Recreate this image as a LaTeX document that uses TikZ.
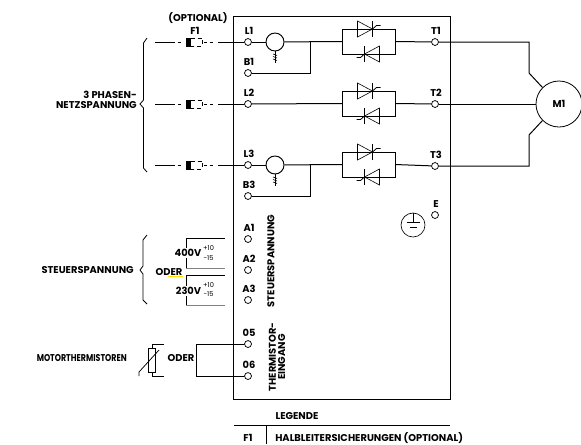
\documentclass[tikz,border=0pt]{standalone}
\usepackage{fontspec}
\setmainfont{Poppins}
\newfontfamily\narrowfont{Poppins}[FakeStretch=0.8]
\tikzset{
  wire/.style={line width=0.75pt,line join=miter},
  term/.style={circle,draw,line width=0.55pt,fill=white,minimum size=5.2pt,inner sep=0pt},
  lab/.style={font=\fontsize{7.4pt}{7.4pt}\selectfont\bfseries,inner sep=0pt,align=center},
  small/.style={font=\fontsize{5pt}{5pt}\selectfont,inner sep=0pt},
  pics/fuse/.style={code={
    \draw[wire] (-40,0) -- (-20,0);
    \draw[wire] (-17,0) -- (-14,0);
    \fill (-9,-4.5) rectangle (-4,4.5);
    \draw[line width=0.5pt,densely dashed] (-4,-4) -- (7,-4) -- (7,4) -- (-4,4);
    \draw[wire] (9,0) -- (12,0) (15,0) -- (18,0);
  }},
  pics/thyr/.style={code={
    \draw[line width=0.45pt] (-15,-8) -- (0,0) -- (-15,8) -- cycle;
    \draw[line width=0.6pt] (0,-8) -- (0,8);
    \draw[line width=0.6pt] (0,0) -- (4,-3.5) -- (8,-3.5);
  }},
  pics/thyrpair/.style={code={
    \draw[wire] (-26.5,-12.5) rectangle (26.5,12.5);
    \pic at (4,-12.5) {thyr};
    \pic[rotate=180] at (-4,12.5) {thyr};
  }},
  pics/ct/.style={code={
    \draw[line width=0.6pt] (0,9) -- (0,21);
    \draw[line width=0.45pt] (-2,12) -- (2,13.5) (-2,14.5) -- (2,16) (-2,17) -- (2,18.5);
  }}
}
\begin{document}
\begin{tikzpicture}[x=0.75pt,y=-0.75pt]
\useasboundingbox (0,0) rectangle (581,444);
% enclosure
\draw[wire] (233.5,16) rectangle (450,399.5);

% terminals
\foreach \n/\x/\y/\t in {L1/248/42/L1,B1/248/73/B1,L2/248/104/L2,L3/248/165/L3,B3/248/196/B3,A1/248/239/A1,A2/248/270/A2,A3/248/300/A3,O5/248/344/05,O6/248/376/06,T1/435/42/T1,T2/435/104/T2,T3/435/166/T3,E/435/215/E}
  {\node[term] (\n) at (\x,\y) {};
   \node[lab] (lab\n) at (\x+1,\y-11) {\t};}

% motor
\node[circle,draw,line width=0.6pt,minimum size=34.5pt,inner sep=0pt] (M) at (559,104) {};
\node[lab] (Mtext) at (559,104) {M1};
\coordinate (m1a) at (529,42); \coordinate (m1b) at (529,73);
\coordinate (m3a) at (529,166); \coordinate (m3b) at (529,135);
\draw[wire] (T1) -- (m1a) -- (m1b) -- (M.135);
\draw[wire] (T2) -- (M);
\draw[wire] (T3) -- (m3a) -- (m3b) -- (M.225);

% thyristor groups
\foreach \n/\y in {a/41.5,b/103.5,c/164.5}{
  \coordinate (th\n) at (368.5,\y);
  \coordinate (th\n W) at (342,\y);
  \coordinate (th\n E) at (395,\y);
  \pic at (th\n) {thyrpair};
}
\draw[wire] (thaE) -- (T1);
\draw[wire] (thbE) -- (T2);
\draw[wire] (thcE) -- (T3);

% current transformers
\node[circle,draw,line width=0.7pt,fill=white,minimum size=13.5pt,inner sep=0pt] (CT1) at (275,42) {};
\node[circle,draw,line width=0.7pt,fill=white,minimum size=13.5pt,inner sep=0pt] (CT3) at (275,165) {};
\pic at (CT1) {ct};
\pic at (CT3) {ct};
\coordinate (j1) at (310,42); \coordinate (j1b) at (310,73);
\coordinate (j3) at (310,165); \coordinate (j3b) at (310,196);
\draw[wire] (L1) -- (CT1);
\draw[wire] (CT1) -- (thaW);
\draw[wire] (B1) -- (j1b) -- (j1);
\draw[wire] (L2) -- (thbW);
\draw[wire] (L3) -- (CT3);
\draw[wire] (CT3) -- (thcW);
\draw[wire] (B3) -- (j3b) -- (j3);

% fuses and mains
\foreach \n/\y/\e in {a/42/L1,b/104/L2,c/165/L3}{
  \coordinate (fu\n) at (195,\y);
  \coordinate (fo\n) at (218,\y);
  \pic at (fu\n) {fuse};
  \draw[wire] (fo\n) -- (\e);
}
\node[lab] (optl) at (198,18) {(OPTIONAL)};
\node[lab] (f1l) at (195,31) {F1};

% braces
\draw[line width=0.6pt] (147,38) -- (143.5,43) -- (143.5,100) -- (140,104) -- (143.5,108) -- (143.5,168) -- (147,172);
\draw[line width=0.6pt] (147,235) -- (143,240) -- (143,266) -- (140,270) -- (143,274) -- (143,300) -- (147,304);
\node[lab,anchor=east,align=right] (netz) at (137,100) {3 PHASEN-\\[-0.3pt]NETZSPANNUNG};
\node[lab,anchor=east] (steuer) at (134,270) {STEUERSPANNUNG};

% control supply
\draw[wire] (225,238) -- (186,238) -- (186,268);
\draw[wire,gray] (186,268) -- (225,268);
\draw[wire] (225,275) -- (186,275) -- (186,305);
\draw[wire,gray] (186,305) -- (225,305);
\node[lab,fill=white,inner ysep=1pt] (v400) at (188,253) {400V};
\node[lab,fill=white,inner ysep=1pt] (v230) at (188.5,291) {230V};
\node[small] (p1) at (208.5,248) {+10};
\node[small] (m1) at (208.5,258) {-15};
\node[small] (p2) at (208.5,285) {+10};
\node[small] (m2) at (208.5,294) {-15};
\node[lab] (oder1) at (169,272) {ODER};
\draw[line width=0.7pt,yellow!85!orange] (168,276.7) -- (183,276.7);
\node[lab,rotate=90] (st2) at (271,261) {STEUERSPANNUNG};
\node[lab,rotate=90] (the) at (277,357) {THERMISTOR-\\[-0.3pt]EINGANG};

% earth
\node[circle,draw,line width=0.5pt,minimum size=18pt,inner sep=0pt] (PE) at (413,225) {};
\draw[line width=0.6pt] (PE.north) -- (413,222);
\draw[line width=0.6pt] (406.5,222) -- (419.5,222);
\draw[line width=0.6pt] (409.5,227) -- (416.5,227);

% thermistor
\node[draw,line width=0.6pt,minimum width=5.8pt,minimum height=18pt,inner sep=0pt] (R) at (152,360) {};
\coordinate (rt) at (163.5,344); \coordinate (rb) at (163.5,376);
\draw[line width=0.6pt] (rt) -- (R.north |- rt) -- (R.north);
\draw[line width=0.6pt] (rb) -- (R.south |- rb) -- (R.south);
\draw[line width=0.55pt] (139,376) -- (139,372) -- (159,350);
\coordinate (br1) at (196,344); \coordinate (br2) at (196,376);
\draw[wire] (O5) -- (br1) -- (br2) -- (O6);
\node[lab] (oder2) at (181,358) {ODER};
\node[lab,anchor=east] (mot) at (127,358) {\narrowfont\bfseries MOTORTHERMISTOREN};

% legend
\node[lab] (leg) at (297,416) {LEGENDE};
\coordinate (ll) at (234,425); \coordinate (lr) at (450,425);
\coordinate (lv) at (266,425); \coordinate (lv2) at (266,444);
\draw[wire] (ll) -- (lr);
\draw[wire] (lv) -- (lv2);
\node[lab] (f1) at (248,438) {F1};
\node[lab,anchor=west] (hal) at (275,438) {HALBLEITERSICHERUNGEN (OPTIONAL)};
\end{tikzpicture}
\end{document}
